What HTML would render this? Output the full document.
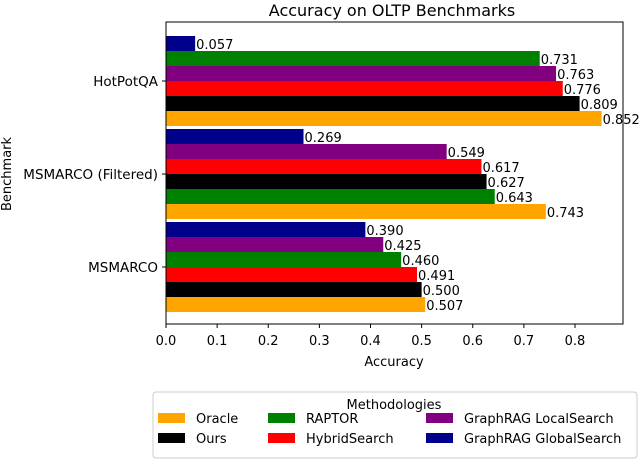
<!DOCTYPE html>
<html><head><meta charset="utf-8"><style>
body{margin:0;background:#fff;}
svg{display:block;font-family:"DejaVu Sans","Liberation Sans",sans-serif;}
</style></head><body>
<svg id="chart" width="640" height="461"></svg>
<script>
const benchmarks = ["HotPotQA", "MSMARCO (Filtered)", "MSMARCO"];
const methods = ["Oracle", "Ours", "RAPTOR", "HybridSearch", "GraphRAG LocalSearch", "GraphRAG GlobalSearch"];
const colors = ["#FFA500", "#000000", "#008000", "#FF0000", "#800080", "#00008B"];
const oracleVals = [0.852, 0.743, 0.507];
const oursVals = [0.809, 0.627, 0.500];
const raptorVals = [0.731, 0.643, 0.460];
const hybridVals = [0.776, 0.617, 0.491];
const localVals = [0.763, 0.549, 0.425];
const globalVals = [0.057, 0.269, 0.390];
const xTicks = [0, 0.1, 0.2, 0.3, 0.4, 0.5, 0.6, 0.7, 0.8];
const series = [oracleVals, oursVals, raptorVals, hybridVals, localVals, globalVals];

const NS = "http://www.w3.org/2000/svg";
const svg = document.getElementById("chart");
const L = 166, R = 623, T = 22, B = 324;
const xs = v => L + v * 511.25;
const groupY = i => 81 + i * 93;
const barH = 15;
function mk(tag, attrs, parent) {
  const e = document.createElementNS(NS, tag);
  for (const k in attrs) e.setAttribute(k, attrs[k]);
  (parent || svg).appendChild(e);
  return e;
}
function txt(x, y, s, attrs) {
  const t = mk("text", Object.assign({x: x, y: y, "font-size": 13, fill: "#000"}, attrs || {}));
  t.textContent = s;
  return t;
}
const title = txt(392, 16, "Accuracy on OLTP Benchmarks", {"text-anchor": "middle", "font-size": 16});



benchmarks.forEach((b, gi) => {
  const order = series.map((s, mi) => mi).sort((a, c) => series[c][gi] - series[a][gi]);
  order.forEach((mi, rank) => {
    const v = series[mi][gi];
    const yBottom = groupY(gi) + 3 * barH - rank * barH;
    const r = mk("rect", {x: L, y: yBottom - barH, width: xs(v) - L, height: barH, fill: colors[mi]});
    
    
    const lb = txt(xs(v) + 1, yBottom - 2, v.toFixed(3), {"font-size": 13});
    
    
  });
  mk("line", {x1: L - 4, x2: L, y1: groupY(gi), y2: groupY(gi), stroke: "#000"});
  const yl = txt(L - 8, groupY(gi) + 5, b, {"text-anchor": "end", "font-size": 13.5});
  
  
});
const frame = mk("rect", {x: L, y: T, width: R - L, height: B - T, fill: "none", stroke: "#000", "stroke-width": 1});


xTicks.forEach(t => {
  mk("line", {x1: xs(t), x2: xs(t), y1: B, y2: B + 4, stroke: "#000"});
  const xl = txt(xs(t), B + 21, t.toFixed(1), {"text-anchor": "middle", "font-size": 13});
  
  
});
const xt = txt(394, 366, "Accuracy", {"text-anchor": "middle", "font-size": 13});


const yt = txt(0, 0, "Benchmark", {"text-anchor": "middle", "font-size": 13, transform: "translate(11,174) rotate(-90)"});



const lg = mk("g", {});


mk("rect", {x: 153, y: 392, width: 484, height: 66, rx: 3, fill: "#fff", stroke: "#ccc"}, lg);
const lt = txt(394, 409, "Methodologies", {"text-anchor": "middle", "font-size": 13});
lg.appendChild(lt);
const legPos = [[158, 418], [158, 438], [268, 418], [268, 438], [426, 418], [426, 438]];
methods.forEach((m, i) => {
  const [px, py] = legPos[i];
  const g = mk("g", {}, lg);
  
  
  mk("rect", {x: px, y: py - 5, width: 27, height: 10, fill: colors[i]}, g);
  const t = txt(px + 38, py + 5, m, {"font-size": 13});
  g.appendChild(t);
});
</script>
</body></html>
